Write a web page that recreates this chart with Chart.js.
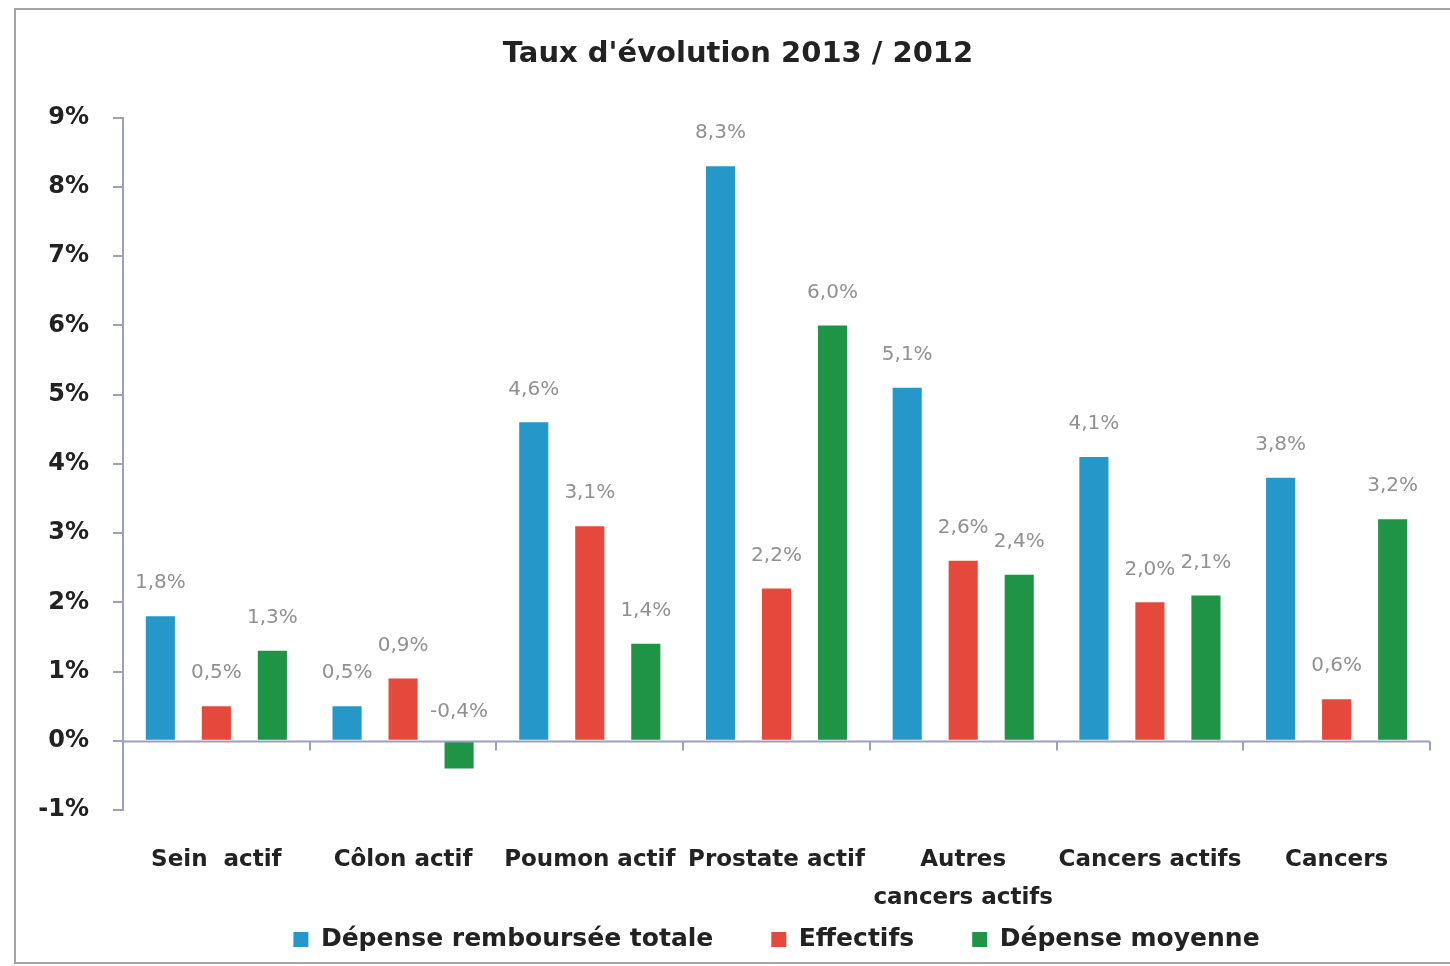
<!DOCTYPE html>
<html lang="fr">
<head>
<meta charset="utf-8">
<title>Taux d'évolution 2013 / 2012</title>
<script src="https://cdn.jsdelivr.net/npm/chart.js@4.4.1/dist/chart.umd.min.js"></script>
<style>
  html, body { margin: 0; padding: 0; background: #ffffff; }
  #wrap { width: 1450px; height: 966px; position: relative; }
  canvas { display: block; }
</style>
</head>
<body>
<div id="wrap"><canvas id="chart" width="1450" height="966"></canvas></div>
<script>
// Categories (multi-line where the label wraps)
const categories = [
  'Sein  actif',
  'Côlon actif',
  'Poumon actif',
  'Prostate actif',
  ['Autres', 'cancers actifs'],
  'Cancers actifs',
  'Cancers'
];

// Growth rates 2013/2012, in %
const depenseTotale = [1.8, 0.5, 4.6, 8.3, 5.1, 4.1, 3.8];
const effectifs     = [0.5, 0.9, 3.1, 2.2, 2.6, 2.0, 0.6];
const depenseMoy    = [1.3, -0.4, 1.4, 6.0, 2.4, 2.1, 3.2];

const seriesNames = ['Dépense remboursée totale', 'Effectifs', 'Dépense moyenne'];
const yTicks = [-1, 0, 1, 2, 3, 4, 5, 6, 7, 8, 9];

const FONT = '"DejaVu Sans", "Liberation Sans", sans-serif';
const AXIS_COLOR = '#9ca0c0';

// Outer frame around the whole figure
const framePlugin = {
  id: 'frame',
  beforeDraw(chart) {
    const ctx = chart.ctx;
    ctx.save();
    ctx.fillStyle = '#ffffff';
    ctx.fillRect(0, 0, chart.width, chart.height);
    ctx.strokeStyle = '#a5a5a5';
    ctx.lineWidth = 2;
    ctx.strokeRect(15, 9, chart.width, chart.height - 12);
    ctx.restore();
  }
};

// Give axis labels room beyond their compact layout boxes
// (two-line category label below, "-1%" on the left)
const labelRoomPlugin = {
  id: 'labelRoom',
  afterLayout(chart) {
    chart.scales.x.bottom = chart.height;
    chart.scales.y.left = 0;
  }
};

// Category axis drawn along the zero line, with separators between groups
const zeroAxisPlugin = {
  id: 'zeroAxis',
  afterDatasetsDraw(chart) {
    const { ctx, chartArea, scales } = chart;
    const y0 = Math.round(scales.y.getPixelForValue(0)) + 0.5;
    const n = categories.length;
    const w = (chartArea.right - chartArea.left) / n;
    ctx.save();
    ctx.strokeStyle = AXIS_COLOR;
    ctx.lineWidth = 2;
    ctx.beginPath();
    ctx.moveTo(chartArea.left, y0);
    ctx.lineTo(chartArea.right, y0);
    for (let i = 0; i <= n; i++) {
      const x = Math.round(chartArea.left + i * w);
      ctx.moveTo(x, y0);
      ctx.lineTo(x, y0 + 9);
    }
    ctx.stroke();
    ctx.restore();
  }
};

// Value labels above each bar
const valueLabelPlugin = {
  id: 'valueLabels',
  afterDatasetsDraw(chart) {
    const { ctx, scales } = chart;
    const y0 = scales.y.getPixelForValue(0);
    ctx.save();
    ctx.font = '20px ' + FONT;
    ctx.fillStyle = '#909090';
    ctx.textAlign = 'center';
    ctx.textBaseline = 'middle';
    chart.data.datasets.forEach((ds, di) => {
      const meta = chart.getDatasetMeta(di);
      meta.data.forEach((bar, i) => {
        const v = ds.data[i];
        const txt = v.toFixed(1).replace('.', ',') + '%';
        const y = v >= 0 ? bar.y - 33 : y0 - 29;
        ctx.fillText(txt, bar.x, y);
      });
    });
    ctx.restore();
  }
};

new Chart(document.getElementById('chart'), {
  type: 'bar',
  data: {
    labels: categories,
    datasets: [
      { label: seriesNames[0], data: depenseTotale, backgroundColor: '#2697c9' },
      { label: seriesNames[1], data: effectifs,     backgroundColor: '#e4493b' },
      { label: seriesNames[2], data: depenseMoy,    backgroundColor: '#1f9447' }
    ]
  },
  options: {
    responsive: false,
    animation: false,
    layout: { padding: { left: 46, right: 20, top: 0, bottom: 4 } },
    datasets: {
      bar: { categoryPercentage: 0.9, barPercentage: 0.52 }
    },
    plugins: {
      title: {
        display: true,
        text: "Taux d'évolution 2013 / 2012",
        color: '#222222',
        font: { family: FONT, size: 29, weight: 'bold' },
        padding: { top: 37, bottom: 46 }
      },
      legend: {
        position: 'bottom',
        fullSize: false,
        labels: {
          color: '#222222',
          font: { family: FONT, size: 25, weight: 'bold' },
          boxWidth: 15,
          boxHeight: 15,
          padding: 58
        }
      },
      tooltip: { enabled: false }
    },
    scales: {
      x: {
        grid: { display: false, drawTicks: false },
        border: { display: false },
        ticks: {
          color: '#222222',
          font: { family: FONT, size: 23, weight: 'bold', lineHeight: 1.65 },
          padding: 31,
          maxRotation: 0,
          autoSkip: false
        },
        afterFit(scale) { scale.height = 59; }
      },
      y: {
        min: -1,
        max: 9,
        afterBuildTicks(scale) { scale.ticks = yTicks.map(v => ({ value: v })); },
        grid: {
          drawOnChartArea: false,
          drawTicks: true,
          tickLength: 10,
          color: AXIS_COLOR,
          lineWidth: 2
        },
        border: { display: true, color: AXIS_COLOR, width: 2 },
        ticks: {
          color: '#222222',
          font: { family: FONT, size: 24, weight: 'bold' },
          padding: 24,
          callback: v => v + '%'
        },
        afterFit(scale) { scale.width = 77; }
      }
    }
  },
  plugins: [framePlugin, labelRoomPlugin, zeroAxisPlugin, valueLabelPlugin]
});
</script>
</body>
</html>
